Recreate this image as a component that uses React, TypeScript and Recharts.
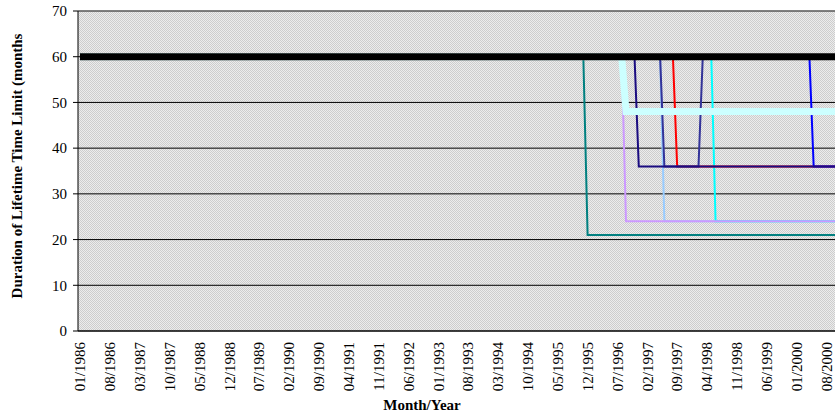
import { LineChart, Line, XAxis, YAxis, CartesianGrid, ReferenceLine } from "recharts";

// monthly categories, 01/1986 .. 10/2000
const startYear = 1986;
const monthCount = 178;
const months: string[] = [];
for (let i = 0; i < monthCount; i++) {
  const m = (i % 12) + 1;
  const y = startYear + Math.floor(i / 12);
  months.push(`${String(m).padStart(2, "0")}/${y}`);
}

const yTicks = [0, 10, 20, 30, 40, 50, 60, 70];

// each series: list of [first month, value] steps
const federal = [["01/1986", 60]];
const stateA = [["01/1986", 60], ["12/1995", 21]];
const stateB = [["01/1986", 60], ["06/1997", 24]];
const stateC = [["01/1986", 60], ["06/1998", 24]];
const stateD = [["01/1986", 60], ["09/1997", 36]];
const stateE = [["01/1986", 60], ["05/2000", 36]];
const stateF = [["01/1986", 60], ["06/1997", 36], ["03/1998", 60]];
const stateG = [["01/1986", 60], ["09/1996", 24]];
const stateH = [["01/1986", 60], ["12/1996", 36]];
const stateI = [["01/1986", 60], ["09/1996", 48]];

const series = [
  { key: "a", steps: stateA, color: "#008080", width: 2 },
  { key: "b", steps: stateB, color: "#99CCFF", width: 2 },
  { key: "c", steps: stateC, color: "#00FFFF", width: 2 },
  { key: "g", steps: stateG, color: "#CC99FF", width: 2 },
  { key: "d", steps: stateD, color: "#FF0000", width: 2 },
  { key: "e", steps: stateE, color: "#0000FF", width: 2 },
  { key: "f", steps: stateF, color: "#333399", width: 2 },
  { key: "h", steps: stateH, color: "#1A0C80", width: 2 },
  { key: "i", steps: stateI, color: "#CCFFFF", width: 7 },
  { key: "fed", steps: federal, color: "#000000", width: 7 },
];

function valueAt(steps: any[], idx: number) {
  let v = null;
  for (const [from, val] of steps) {
    if (months.indexOf(from) <= idx) v = val;
  }
  return v;
}

const data = months.map((month, i) => {
  const row: any = { month };
  series.forEach((s) => (row[s.key] = valueAt(s.steps, i)));
  return row;
});

const font = "'Liberation Serif', 'Times New Roman', serif";

const MonthTick = ({ x, y, payload }: any) => (
  <text
    x={x}
    y={y}
    transform={`rotate(-90 ${x} ${y})`}
    textAnchor="end"
    dy="0.35em"
    fontSize={15}
    fontFamily={font}
    fill="#000"
  >
    {payload.value}
  </text>
);

export default function App() {
  return (
    <div style={{ position: "absolute", left: 0, top: 0 }}>
      <LineChart width={835} height={419} data={data} margin={{ top: 11, right: 0, bottom: 0, left: 0 }}>
        <defs>
          <pattern id="hatch" width="2" height="2" patternUnits="userSpaceOnUse">
            <rect width="2" height="2" fill="#ececec" />
            <rect width="1" height="1" fill="#cdcdcd" />
            <rect x="1" y="1" width="1" height="1" fill="#cdcdcd" />
          </pattern>
        </defs>
        <CartesianGrid vertical={false} stroke="#000" fill="url(#hatch)" fillOpacity={1} />
        <XAxis
          dataKey="month"
          interval={6}
          height={88}
          padding={{ left: 2, right: 0 }}
          tickLine={false}
          tickSize={6}
          tickMargin={5}
          axisLine={{ stroke: "#000" }}
          tick={<MonthTick />}
          label={{
            content: () => (
              <text x={422} y={410} textAnchor="middle" fontSize={15} fontWeight="bold" fontFamily={font} fill="#000">
                Month/Year
              </text>
            ),
          }}
        />
        <YAxis
          width={78}
          domain={[0, 70]}
          ticks={yTicks}
          tickSize={5}
          tickMargin={6}
          axisLine={{ stroke: "#000" }}
          tickLine={{ stroke: "#000" }}
          tick={{ fontSize: 15, fontFamily: font, fill: "#000" }}
          label={{
            content: () => (
              <text
                x={17}
                y={166}
                transform="rotate(-90 17 166)"
                dy="0.35em"
                textAnchor="middle"
                fontSize={15}
                fontWeight="bold"
                fontFamily={font}
                fill="#000"
              >
                Duration of Lifetime Time Limit (months
              </text>
            ),
          }}
        />
        <ReferenceLine y={70} stroke="#808080" />
        {series.map((s) => (
          <Line
            key={s.key}
            type="linear"
            dataKey={s.key}
            stroke={s.color}
            strokeWidth={s.width}
            dot={false}
            activeDot={false}
            isAnimationActive={false}
          />
        ))}
      </LineChart>
    </div>
  );
}
